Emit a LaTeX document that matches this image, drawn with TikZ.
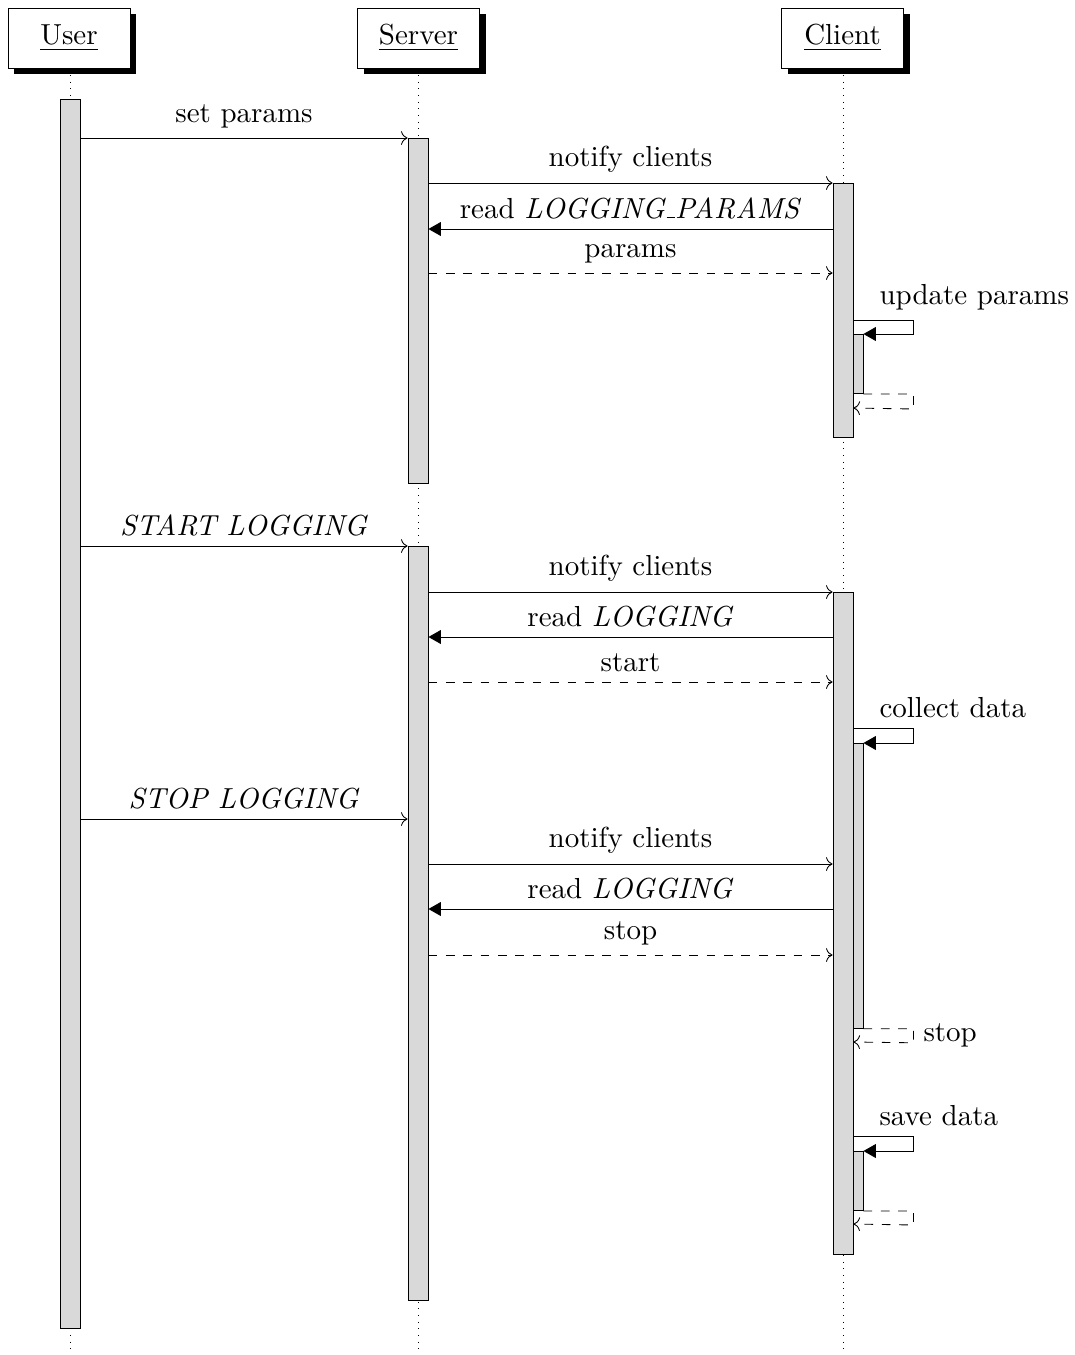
\documentclass[tikz,border=0pt]{standalone}
\usetikzlibrary{arrows.meta,shadows}
\newcommand{\myus}{\kern.06em\rule[0pt]{.3em}{0.4pt}}
\begin{document}
\begin{tikzpicture}[x=0.345pt,y=-0.345pt,line width=0.3pt,
  inst/.style={draw,fill=white,minimum width=42.1pt,minimum height=20.7pt,inner sep=0pt,
    drop shadow={shadow xshift=2.1pt,shadow yshift=-2.1pt,fill=black,opacity=1}},
  bar/.style={draw,fill=black!15,minimum width=6.9pt,inner sep=0pt,anchor=north},
  nbar/.style={draw,fill=black!15,minimum width=3.45pt,inner sep=0pt,anchor=north},
  life/.style={dotted,line width=0.3pt},
  call/.style={->},
  rd/.style={-{Triangle[length=4.3pt,width=4.8pt]}},
  ret/.style={dashed,->},
  scall/.style={-{Triangle[length=4.3pt,width=4.8pt]}}
]
\useasboundingbox (0,0) rectangle (1075,1355);

% instances
\node[inst] (user) at (69,38) {\underline{User}};
\node[inst] (server) at (418.5,38) {\underline{Server}};
\node[inst] (client) at (842.5,38) {\underline{Client}};

% lifelines
\coordinate (uend) at (70,1355);
\coordinate (send) at (418,1355);
\coordinate (cend) at (843,1355);
\draw[life] (user.south -| uend) -- (uend);
\draw[life] (server.south -| send) -- (send);
\draw[life] (client.south -| cend) -- (cend);

% activation bars
\node[bar,minimum height=424.0pt] (ub) at (70,99) {};
\node[bar,minimum height=119.0pt] (sb1) at (418,138) {};
\node[bar,minimum height=260.1pt] (sb2) at (418,546) {};
\node[bar,minimum height=87.6pt] (cb1) at (843,183) {};
\node[bar,minimum height=228.4pt] (cb2) at (843,592) {};
\node[nbar,minimum height=20.4pt] (n1) at (858,334) {};
\node[nbar,minimum height=98.3pt] (n2) at (858,743) {};
\node[nbar,minimum height=20.4pt] (n3) at (858,1151) {};

% phase 1
\draw[call] (ub.east |- 0,138) -- node[above] {set params} (sb1.west |- 0,138);
\draw[call] (sb1.east |- 0,183) -- node[above] {notify clients} (cb1.west |- 0,183);
\draw[rd] (cb1.west |- 0,229) -- node[above] {read \textit{LOGGING\myus PARAMS}} (sb1.east |- 0,229);
\draw[ret] (sb1.east |- 0,273) -- node[above] {params} (cb1.west |- 0,273);
\draw[scall] (cb1.east |- 0,320) -- ++(60,0) -- ++(0,14) -- (n1.north east);
\path (cb1.east |- 0,320) ++(16,0) node[anchor=south west] (l1) {update params};
\draw[ret] (n1.south east) -- ++(50,0) -- ++(0,15) -- (cb1.east |- 0,408);

% phase 2
\draw[call] (ub.east |- 0,546) -- node[above] {\textit{START LOGGING}} (sb2.west |- 0,546);
\draw[call] (sb2.east |- 0,592) -- node[above] {notify clients} (cb2.west |- 0,592);
\draw[rd] (cb2.west |- 0,637) -- node[above] {read \textit{LOGGING}} (sb2.east |- 0,637);
\draw[ret] (sb2.east |- 0,682) -- node[above] {start} (cb2.west |- 0,682);
\draw[scall] (cb2.east |- 0,728) -- ++(60,0) -- ++(0,15) -- (n2.north east);
\path (cb2.east |- 0,728) ++(16,0) node[anchor=south west] (l2) {collect data};

% phase 3
\draw[call] (ub.east |- 0,819) -- node[above] {\textit{STOP LOGGING}} (sb2.west |- 0,819);
\draw[call] (sb2.east |- 0,864) -- node[above] {notify clients} (cb2.west |- 0,864);
\draw[rd] (cb2.west |- 0,909) -- node[above] {read \textit{LOGGING}} (sb2.east |- 0,909);
\draw[ret] (sb2.east |- 0,955) -- node[above] {stop} (cb2.west |- 0,955);
\draw[ret] (n2.south east) -- ++(50,0) -- node[right] {stop} ++(0,14) -- (cb2.east |- 0,1042);

% save data
\draw[scall] (cb2.east |- 0,1136) -- ++(60,0) -- ++(0,15) -- (n3.north east);
\path (cb2.east |- 0,1136) ++(16,0) node[anchor=south west] (l3) {save data};
\draw[ret] (n3.south east) -- ++(50,0) -- ++(0,14) -- (cb2.east |- 0,1224);
\end{tikzpicture}
\end{document}
